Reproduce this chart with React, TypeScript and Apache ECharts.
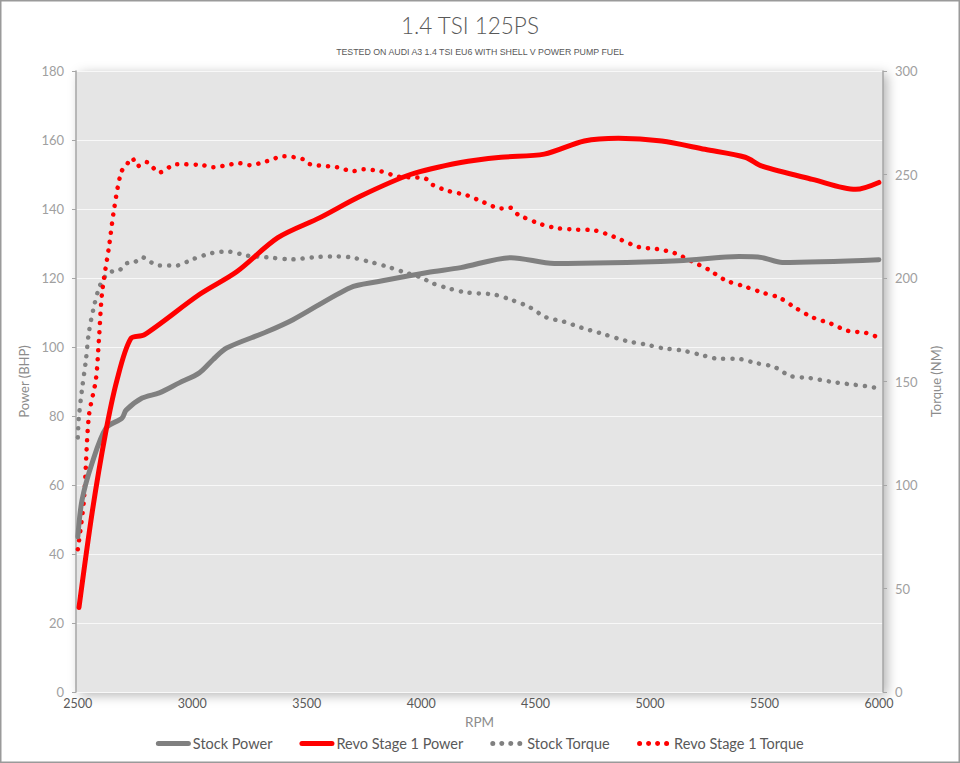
import React, { useEffect, useRef } from "react";
import * as echarts from "echarts";

const xTicks = [2500, 3000, 3500, 4000, 4500, 5000, 5500, 6000];

const stockPowerRpm = [2500, 2518, 2562, 2623, 2693, 2711, 2781, 2856, 2943, 3031, 3090, 3150, 3325, 3440, 3690, 3808, 4028, 4173, 4393, 4582, 5126, 5389, 5490, 5578, 6000];
const stockPowerVal = [45, 55.5, 66.3, 76.5, 79.4, 81.7, 85.2, 86.7, 89.6, 92.5, 96.3, 99.7, 104.4, 107.9, 117.2, 118.9, 121.6, 123, 125.9, 124.2, 125, 126.2, 125.9, 124.5, 125.3];

const revoPowerRpm = [2505, 2562, 2621, 2671, 2731, 2790, 3031, 3194, 3374, 3558, 3734, 3953, 4173, 4349, 4538, 4713, 4862, 5051, 5240, 5416, 5490, 5710, 5899, 6000];
const revoPowerVal = [24.5, 51.8, 75, 90.4, 102.4, 103.5, 115.2, 121.8, 131.7, 137.5, 143.7, 150, 153.5, 155, 155.9, 159.7, 160.5, 159.7, 157.3, 155, 152.4, 148.6, 145.7, 147.7];

const stockTorqueRpm = [2500, 2504, 2518, 2535, 2548, 2570, 2592, 2614, 2645, 2680, 2711, 2746, 2781, 2821, 2856, 2930, 3000, 3084, 3154, 3242, 3325, 3440, 3528, 3611, 3690, 3769, 3852, 3932, 4006, 4041, 4120, 4199, 4318, 4393, 4472, 4546, 4621, 4700, 4779, 4897, 4976, 5060, 5139, 5218, 5301, 5380, 5459, 5543, 5613, 5697, 5785, 5864, 5943, 5990];
const stockTorqueVal = [123, 132, 146, 160, 173.5, 186, 195, 200, 203, 203.6, 207, 207.5, 210, 207.5, 206, 206, 209, 212, 212.8, 210.8, 210, 209, 210, 210.4, 210, 208, 205.5, 202.6, 200, 197.8, 195, 193, 192, 189.5, 186, 181, 179, 176, 173.5, 169.6, 168, 166, 165, 163, 161, 161, 159, 157, 152.7, 151.7, 150, 148.8, 147.8, 146.9];

const revoTorqueRpm = [2500, 2526, 2548, 2579, 2592, 2606, 2636, 2658, 2689, 2715, 2737, 2760, 2799, 2856, 2930, 3044, 3088, 3207, 3251, 3325, 3400, 3484, 3514, 3633, 3703, 3747, 3822, 3901, 4019, 4050, 4120, 4199, 4274, 4349, 4388, 4423, 4524, 4599, 4678, 4757, 4840, 4950, 5029, 5108, 5183, 5257, 5328, 5411, 5490, 5565, 5635, 5710, 5789, 5864, 5943, 5990];
const revoTorqueVal = [69, 92, 133, 151, 170, 193, 215, 233, 251, 255, 258, 254, 256, 251, 255, 254.5, 253.5, 255.4, 254.5, 256.4, 258.8, 257.4, 255, 253.5, 251.6, 252.5, 251.6, 249, 248, 245, 242, 240, 236.5, 233.6, 234, 230.7, 226, 224, 223.4, 223, 220, 215, 214, 212, 208, 204, 199, 196, 193, 190.5, 185.6, 181, 178, 174.5, 173.5, 171.6];

const pairs = (xs: number[], ys: number[]) => xs.map((x, i) => [x, ys[i]]);

const GRAY = "#808080";
const RED = "#ff0000";
const TXT = "#8c8c8c";

const solidIcon = "path://M2.5,0H32.5A2.5,2.5 0 0 1 32.5,5H2.5A2.5,2.5 0 0 1 2.5,0Z";
const dot = (cx: number) => `M${cx - 2.5},2.5a2.5,2.5 0 1,0 5,0a2.5,2.5 0 1,0 -5,0`;
const dottedIcon = "path://" + [2.5, 11.5, 20.5, 29.5].map(dot).join(" ") + " M0,0M35,5";

export default function App() {
  const ref = useRef<HTMLDivElement>(null);
  useEffect(() => {
    const chart = echarts.init(ref.current!, null, { renderer: "svg" });
    const dotted = [0.1, 9];
    chart.setOption({
      animation: false,
      backgroundColor: "#ffffff",
      title: [
        {
          text: "1.4 TSI 125PS",
          left: 396,
          top: 9,
          textStyle: { fontFamily: "Lato", fontWeight: 300, fontSize: 22.5, color: "#595959" },
        },
        {
          text: "TESTED ON AUDI A3 1.4 TSI EU6 WITH SHELL V POWER PUMP FUEL",
          left: "center",
          top: 42,
          textStyle: { fontFamily: "Liberation Sans", fontWeight: "normal", fontSize: 8.8, color: "#595959" },
        },
      ],
      graphic: [
        {
          type: "rect",
          shape: { x: 0.75, y: 0.75, width: 958.5, height: 761.5 },
          style: { fill: "none", stroke: "#9a9a9a", lineWidth: 1.5 },
          silent: true,
        },
      ],
      legend: {
        top: 731,
        left: "center",
        itemWidth: 35,
        itemHeight: 5,
        itemGap: 27,
        itemStyle: { borderWidth: 0 },
        textStyle: { fontFamily: "Lato", fontSize: 14.5, color: "#595959", padding: [0, 0, 0, -3] },
        data: [
          { name: "Stock Power", icon: solidIcon },
          { name: "Revo Stage 1 Power", icon: solidIcon },
          { name: "Stock Torque", icon: dottedIcon },
          { name: "Revo Stage 1 Torque", icon: dottedIcon },
        ],
      },
      grid: {
        left: 76,
        right: 77,
        top: 71,
        bottom: 71,
        show: true,
        backgroundColor: "#e5e5e5",
        borderWidth: 0,
        shadowBlur: 12,
        shadowColor: "rgba(0,0,0,0.3)",
        shadowOffsetX: 4,
        shadowOffsetY: 3,
      },
      xAxis: {
        type: "value",
        min: 2492,
        max: 6018,
        minInterval: 500,
        maxInterval: 500,
        name: "RPM",
        nameLocation: "middle",
        nameGap: 22,
        nameTextStyle: { fontFamily: "Lato", fontSize: 13.5, color: TXT },
        axisLine: { show: false },
        axisTick: { show: false },
        splitLine: { show: false },
        axisLabel: {
          margin: 5,
          fontFamily: "Lato",
          fontSize: 12.5,
          color: "#595959",
          showMinLabel: false,
          showMaxLabel: false,
          formatter: (v: number) => (xTicks.includes(v) ? String(v) : ""),
        },
      },
      yAxis: [
        {
          type: "value",
          min: 0,
          max: 180,
          interval: 20,
          name: "Power (BHP)",
          nameLocation: "middle",
          nameGap: 46,
          nameTextStyle: { fontFamily: "Lato", fontSize: 13, color: TXT },
          axisLine: { show: true, lineStyle: { color: "#a6a6a6", width: 1.5 } },
          axisTick: { show: true, length: 4, lineStyle: { color: "#a6a6a6" } },
          splitLine: { show: true, lineStyle: { color: "#f8f8f8", width: 1 } },
          axisLabel: { margin: 12, fontFamily: "Lato", fontSize: 13, color: "#a0a0a0" },
        },
        {
          type: "value",
          min: 0,
          max: 300,
          interval: 50,
          name: "Torque (NM)",
          nameLocation: "middle",
          nameGap: 46,
          nameRotate: 90,
          nameTextStyle: { fontFamily: "Lato", fontSize: 13, color: TXT },
          axisLine: { show: true, lineStyle: { color: "#a6a6a6", width: 1.5 } },
          axisTick: { show: true, length: 4, lineStyle: { color: "#a6a6a6" } },
          splitLine: { show: false },
          axisLabel: { margin: 12, fontFamily: "Lato", fontSize: 13, color: "#a0a0a0" },
        },
      ],
      series: [
        {
          name: "Stock Power",
          type: "line",
          yAxisIndex: 0,
          data: pairs(stockPowerRpm, stockPowerVal),
          smooth: 0.3,
          showSymbol: false,
          symbol: "none",
          lineStyle: { color: GRAY, width: 5, cap: "round" },
          itemStyle: { color: GRAY },
          z: 3,
        },
        {
          name: "Revo Stage 1 Power",
          type: "line",
          yAxisIndex: 0,
          data: pairs(revoPowerRpm, revoPowerVal),
          smooth: 0.3,
          showSymbol: false,
          symbol: "none",
          lineStyle: { color: RED, width: 5, cap: "round" },
          itemStyle: { color: RED },
          z: 4,
        },
        {
          name: "Stock Torque",
          type: "line",
          yAxisIndex: 1,
          data: pairs(stockTorqueRpm, stockTorqueVal),
          smooth: 0.3,
          showSymbol: false,
          symbol: "none",
          lineStyle: { color: GRAY, width: 4.5, type: dotted, cap: "round" },
          itemStyle: { color: GRAY },
          z: 2,
        },
        {
          name: "Revo Stage 1 Torque",
          type: "line",
          yAxisIndex: 1,
          data: pairs(revoTorqueRpm, revoTorqueVal),
          smooth: 0.3,
          showSymbol: false,
          symbol: "none",
          lineStyle: { color: RED, width: 4.5, type: dotted, cap: "round" },
          itemStyle: { color: RED },
          z: 2,
        },
      ],
    });
    return () => chart.dispose();
  }, []);
  return (
    <div
      ref={ref}
      style={{ position: "fixed", left: 0, top: 0, width: 960, height: 763 }}
    />
  );
}
